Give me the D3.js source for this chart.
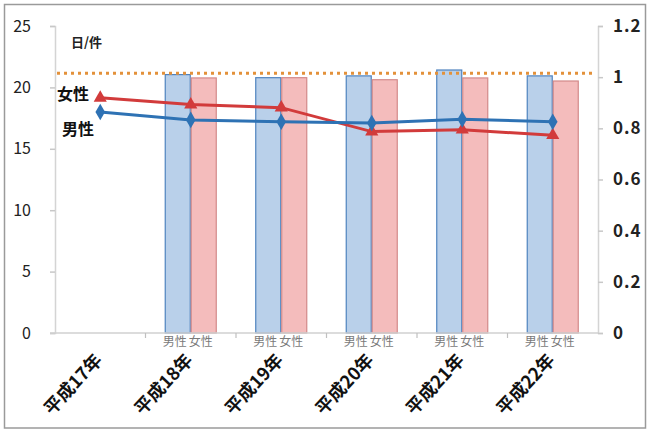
<!DOCTYPE html>
<html>
<head>
<meta charset="utf-8">
<script src="https://cdn.jsdelivr.net/npm/d3@7"></script>
<style>
  html, body { margin: 0; padding: 0; background: #fff; }
  svg { display: block; }
  text { font-family: "Noto Sans CJK JP", "Noto Sans", sans-serif; }
</style>
</head>
<body>
<svg id="chart" width="649" height="430"></svg>
<script>
// Categories (fiscal years)
const categories = ["平成17年", "平成18年", "平成19年", "平成20年", "平成21年", "平成22年"];
const genders = ["男性", "女性"];

// Average days per case (lines, left axis)
const maleDays = [18.0, 17.35, 17.2, 17.1, 17.4, 17.2];
const femaleDays = [19.15, 18.6, 18.35, 16.4, 16.55, 16.1];

// Ratio values (bars, right axis); 平成17年 has no bar
const maleRatio = [null, 1.01, 0.998, 1.005, 1.028, 1.005];
const femaleRatio = [null, 0.997, 0.998, 0.99, 0.997, 0.985];

// Reference level (dotted line, right axis)
const referenceRatio = 1.015;

// Tick values
const leftTicks = [0, 5, 10, 15, 20, 25];
const rightTicks = [0, 0.2, 0.4, 0.6, 0.8, 1.0, 1.2];

const svg = d3.select("#chart");

const plot = { left: 55, right: 598, top: 26, bottom: 333 };

const x = d3.scaleBand().domain(categories).range([plot.left, plot.right]).padding(0);
const xSub = d3.scaleBand().domain(genders).range([0, x.bandwidth()]).paddingInner(0).paddingOuter(0.74);
const yL = d3.scaleLinear().domain([0, 25]).range([plot.bottom, plot.top]);
const yR = d3.scaleLinear().domain([0, 1.2]).range([plot.bottom, plot.top]);

// Outer frame
svg.append("rect")
  .attr("x", 4.5).attr("y", 4.5).attr("width", 641).attr("height", 423.5)
  .attr("fill", "none").attr("stroke", "#9a9a9a").attr("stroke-width", 1.5);

// Bars
const barColors = { "男性": { fill: "#b9d0ea", stroke: "#4f83bf" }, "女性": { fill: "#f4bcbc", stroke: "#d38a8a" } };
const barData = [];
categories.forEach((c, i) => {
  if (maleRatio[i] != null) barData.push({ c, g: "男性", v: maleRatio[i] });
  if (femaleRatio[i] != null) barData.push({ c, g: "女性", v: femaleRatio[i] });
});
svg.append("g").selectAll("rect").data(barData).join("rect")
  .attr("x", d => x(d.c) + xSub(d.g) + 0.5)
  .attr("y", d => yR(d.v))
  .attr("width", xSub.bandwidth() - 1)
  .attr("height", d => yR(0) - yR(d.v))
  .attr("fill", d => barColors[d.g].fill)
  .attr("stroke", d => barColors[d.g].stroke)
  .attr("stroke-width", 1.2);

// Sub-category labels under bars
svg.append("g").selectAll("text").data(barData).join("text")
  .attr("x", d => x(d.c) + xSub(d.g) + xSub.bandwidth() / 2 - 3)
  .attr("y", 346)
  .attr("text-anchor", "middle")
  .attr("font-size", 12)
  .attr("fill", "#7a7a7a")
  .text(d => d.g);

// Left axis
const leftAxis = svg.append("g")
  .attr("transform", `translate(${plot.left},0)`)
  .call(d3.axisLeft(yL).tickValues(leftTicks).tickSize(5).tickPadding(19));
leftAxis.select(".domain").attr("stroke", "#d4d4d4").attr("stroke-width", 1.5);
leftAxis.selectAll(".tick line").attr("stroke", "#c8c8c8").attr("stroke-width", 1.5);
leftAxis.selectAll(".tick text")
  .attr("font-size", 16).attr("fill", "#222")
  .attr("font-family", "'Noto Sans CJK JP', sans-serif");

// Right axis
const rightAxis = svg.append("g")
  .attr("transform", `translate(${plot.right},0)`)
  .call(d3.axisRight(yR).tickValues(rightTicks).tickSize(5).tickPadding(10).tickFormat(d3.format("~g")));
rightAxis.select(".domain").attr("stroke", "#d4d4d4").attr("stroke-width", 1.5);
rightAxis.selectAll(".tick line").attr("stroke", "#c8c8c8").attr("stroke-width", 1.5);
rightAxis.selectAll(".tick text")
  .attr("font-size", 17).attr("fill", "#222").attr("letter-spacing", "1px")
  .attr("font-family", "'Liberation Serif', serif").attr("font-weight", "bold");

// Bottom axis line with category boundary ticks
const bottom = svg.append("g").attr("transform", `translate(0,${plot.bottom})`);
bottom.append("line")
  .attr("x1", plot.left - 5).attr("x2", plot.right)
  .attr("stroke", "#d0d0d0").attr("stroke-width", 1.5);
bottom.selectAll("line.b").data(categories.slice(0, -1)).join("line")
  .attr("class", "b")
  .attr("x1", d => x(d) + x.bandwidth()).attr("x2", d => x(d) + x.bandwidth())
  .attr("y1", 0).attr("y2", 5)
  .attr("stroke", "#c0c0c0").attr("stroke-width", 1.2);

// Category labels (rotated)
const catAxis = svg.append("g")
  .attr("transform", `translate(0,${plot.bottom})`)
  .call(d3.axisBottom(x).tickSize(0));
catAxis.select(".domain").remove();
catAxis.selectAll(".tick text")
  .attr("x", 0).attr("y", 0).attr("dy", 0)
  .attr("transform", "translate(3,28) rotate(-47)")
  .attr("text-anchor", "end")
  .attr("font-size", 18).attr("font-weight", "bold").attr("fill", "#111")
  .attr("font-family", "'Noto Sans CJK JP', sans-serif");

// Reference dotted line
svg.append("line")
  .attr("x1", plot.left + 2).attr("x2", plot.right - 2)
  .attr("y1", yR(referenceRatio)).attr("y2", yR(referenceRatio))
  .attr("stroke", "#e3913a").attr("stroke-width", 3)
  .attr("stroke-dasharray", "3,4");

// Lines with markers
const cx = c => x(c) + x.bandwidth() / 2;
const series = [
  { values: femaleDays, color: "#d23b3b", symbol: d3.symbolTriangle, size: 75 },
  { values: maleDays, color: "#2e72b4", symbol: d3.symbolDiamond, size: 80 }
];
const line = d3.line().x(d => cx(d.c)).y(d => yL(d.v));
series.forEach(s => {
  const pts = categories.map((c, i) => ({ c, v: s.values[i] }));
  svg.append("path").datum(pts)
    .attr("d", line).attr("fill", "none")
    .attr("stroke", s.color).attr("stroke-width", 3);
  svg.append("g").selectAll("path").data(pts).join("path")
    .attr("transform", d => `translate(${cx(d.c)},${yL(d.v)})`)
    .attr("d", d3.symbol().type(s.symbol).size(s.size))
    .attr("fill", s.color);
});

// Series labels and unit
svg.append("text").attr("x", 57).attr("y", 100).attr("font-size", 16).attr("font-weight", "bold").attr("fill", "#111").text("女性");
svg.append("text").attr("x", 62).attr("y", 135).attr("font-size", 16).attr("font-weight", "bold").attr("fill", "#111").text("男性");
svg.append("text").attr("x", 71).attr("y", 47).attr("font-size", 13).attr("font-weight", "bold").attr("fill", "#222").text("日/件");
</script>
</body>
</html>
